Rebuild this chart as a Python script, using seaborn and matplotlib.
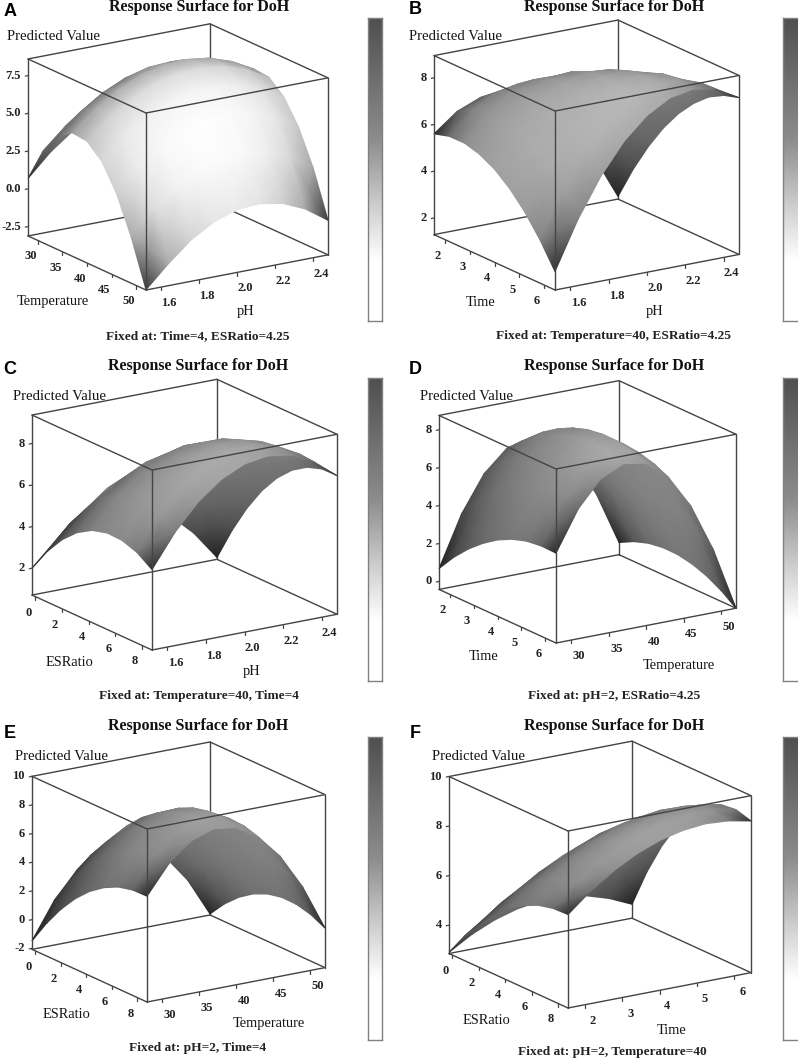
import numpy as np
import seaborn as sns
import matplotlib
matplotlib.use("Agg")
import matplotlib.pyplot as plt
from matplotlib.collections import QuadMesh
from matplotlib.colors import Normalize
from mpl_toolkits.mplot3d import proj3d

sns.set_theme(style="white")
plt.rcParams['font.family'] = ['Liberation Serif', 'DejaVu Serif']

# sampled axis positions
ph_grid = [1.52, 1.64, 1.76, 1.88, 2.0, 2.12, 2.24, 2.36, 2.48]
temp_grid = [28, 31, 34, 37, 40, 43, 46, 49, 52]
time_grid = [1.55, 2.16, 2.78, 3.39, 4.0, 4.61, 5.22, 5.84, 6.45]
esr_grid = [-0.25, 0.88, 2.0, 3.12, 4.25, 5.38, 6.5, 7.62, 8.75]

# tick labels
ph_ticks = [1.6, 1.8, 2.0, 2.2, 2.4]
temp_ticks = [30, 35, 40, 45, 50]
time_ticks = [2, 3, 4, 5, 6]
esr_ticks = [0, 2, 4, 6, 8]

# predicted values, one row per x position
z_a = [[0.69, 2.16, 3.29, 4.09, 4.54, 4.64, 4.40, 3.82, 2.89],
       [2.92, 4.30, 5.35, 6.08, 6.50, 6.59, 6.37, 5.83, 4.97],
       [4.37, 5.68, 6.68, 7.37, 7.77, 7.86, 7.65, 7.14, 6.32],
       [5.05, 6.32, 7.29, 7.98, 8.37, 8.45, 8.25, 7.74, 6.94],
       [4.94, 6.22, 7.19, 7.88, 8.27, 8.35, 8.15, 7.64, 6.84],
       [4.05, 5.37, 6.38, 7.08, 7.49, 7.57, 7.36, 6.84, 6.01],
       [2.37, 3.77, 4.84, 5.59, 6.02, 6.11, 5.89, 5.34, 4.46],
       [-0.08, 1.44, 2.60, 3.41, 3.87, 3.97, 3.73, 3.13, 2.18],
       [-3.10, -1.65, -0.37, 0.52, 1.03, 1.14, 0.87, 0.21, -0.83]]
z_b = [[5.60, 6.37, 6.77, 6.80, 6.46, 5.75, 4.67, 3.22, 1.40],
       [5.79, 6.72, 7.28, 7.46, 7.28, 6.73, 5.81, 4.51, 2.85],
       [5.80, 6.88, 7.60, 7.94, 7.92, 7.53, 6.76, 5.63, 4.13],
       [5.62, 6.87, 7.74, 8.25, 8.38, 8.15, 7.54, 6.57, 5.22],
       [5.27, 6.67, 7.71, 8.37, 8.66, 8.58, 8.14, 7.32, 6.13],
       [4.74, 6.30, 7.49, 8.31, 8.76, 8.84, 8.55, 7.90, 6.86],
       [4.04, 5.76, 7.10, 8.09, 8.69, 8.93, 8.80, 8.30, 7.43],
       [3.14, 5.02, 6.53, 7.67, 8.43, 8.83, 8.86, 8.52, 7.80],
       [2.08, 4.12, 5.78, 7.08, 8.00, 8.56, 8.74, 8.56, 8.00]]
z_c = [[2.00, 3.08, 3.82, 4.19, 4.22, 3.89, 3.22, 2.18, 0.80],
       [3.13, 4.27, 5.07, 5.51, 5.60, 5.33, 4.72, 3.75, 2.43],
       [4.03, 5.24, 6.10, 6.60, 6.75, 6.55, 6.00, 5.09, 3.83],
       [4.70, 5.97, 6.89, 7.45, 7.67, 7.53, 7.04, 6.19, 5.00],
       [5.14, 6.47, 7.46, 8.08, 8.36, 8.28, 7.86, 7.07, 5.94],
       [5.35, 6.74, 7.79, 8.48, 8.82, 8.80, 8.44, 7.72, 6.65],
       [5.32, 6.78, 7.89, 8.64, 9.04, 9.09, 8.79, 8.13, 7.12],
       [5.07, 6.59, 7.76, 8.57, 9.04, 9.15, 8.91, 8.31, 7.37],
       [4.58, 6.16, 7.40, 8.27, 8.80, 8.97, 8.80, 8.26, 7.38]]
z_d = [[0.68, 3.33, 5.22, 6.32, 6.65, 6.20, 4.99, 2.99, 0.22],
       [1.62, 4.20, 6.02, 7.05, 7.32, 6.81, 5.52, 3.46, 0.62],
       [2.42, 4.93, 6.68, 7.65, 7.85, 7.27, 5.92, 3.79, 0.89],
       [3.07, 5.52, 7.21, 8.11, 8.24, 7.59, 6.18, 3.98, 1.01],
       [3.60, 5.99, 7.60, 8.44, 8.50, 7.79, 6.30, 4.04, 1.00],
       [3.99, 6.31, 7.86, 8.62, 8.62, 7.84, 6.29, 3.95, 0.85],
       [4.24, 6.49, 7.97, 8.67, 8.60, 7.75, 6.13, 3.74, 0.57],
       [4.34, 6.53, 7.94, 8.58, 8.44, 7.53, 5.84, 3.37, 0.14],
       [4.32, 6.44, 7.79, 8.35, 8.15, 7.17, 5.42, 2.88, -0.42]]
z_e = [[-1.48, 1.04, 2.82, 3.86, 4.16, 3.73, 2.56, 0.65, -2.00],
       [0.19, 2.64, 4.36, 5.34, 5.58, 5.08, 3.84, 1.87, -0.84],
       [1.63, 4.02, 5.67, 6.58, 6.76, 6.20, 4.89, 2.86, 0.08],
       [2.83, 5.15, 6.74, 7.59, 7.70, 7.07, 5.71, 3.61, 0.77],
       [3.80, 6.05, 7.58, 8.36, 8.41, 7.72, 6.30, 4.13, 1.23],
       [4.53, 6.73, 8.18, 8.90, 8.89, 8.13, 6.64, 4.41, 1.45],
       [5.03, 7.16, 8.55, 9.21, 9.13, 8.31, 6.75, 4.46, 1.43],
       [5.28, 7.35, 8.69, 9.27, 9.13, 8.25, 6.63, 4.27, 1.18],
       [5.31, 7.31, 8.58, 9.11, 8.90, 7.95, 6.27, 3.85, 0.69]]
z_f = [[2.91, 3.45, 3.86, 4.13, 4.26, 4.25, 4.12, 3.83, 3.42],
       [3.82, 4.44, 4.93, 5.28, 5.50, 5.58, 5.52, 5.32, 5.00],
       [4.59, 5.28, 5.84, 6.26, 6.55, 6.69, 6.70, 6.57, 6.31],
       [5.24, 5.99, 6.60, 7.07, 7.41, 7.61, 7.67, 7.59, 7.38],
       [5.77, 6.55, 7.20, 7.71, 8.08, 8.31, 8.41, 8.37, 8.20],
       [6.17, 6.98, 7.65, 8.18, 8.57, 8.82, 8.94, 8.92, 8.77],
       [6.45, 7.26, 7.93, 8.47, 8.87, 9.13, 9.25, 9.24, 9.09],
       [6.60, 7.40, 8.07, 8.59, 8.98, 9.23, 9.35, 9.32, 9.16],
       [6.63, 7.40, 8.04, 8.54, 8.90, 9.12, 9.22, 9.16, 8.98]]

z_ticks_a = [-2.5, 0.0, 2.5, 5.0, 7.5]
z_ticks_b = [2, 4, 6, 8]
z_ticks_d = [0, 2, 4, 6, 8]
z_ticks_e = [-2, 0, 2, 4, 6, 8, 10]
z_ticks_f = [4, 6, 8, 10]

ELEV, AZIM = 17.3, -33.0
GRAY_MAP = sns.blend_palette(['#1a1a1a', '#828282', '#c0c0c0', '#ffffff'], as_cmap=True)
BAR_MAP = sns.blend_palette(['#ffffff', '#ffffff', '#c8c8c8', '#8c8c8c', '#6e6e6e', '#505050'], as_cmap=True)
LINE = '#444444'
W, H = 798, 1060

panels = [
    dict(letter='A', letter_xy=(10, 11), title_xy=(199, 7), caption='Fixed at: Time=4, ESRatio=4.25', caption_xy=(198, 336),
         x=temp_grid, y=ph_grid, z=z_a, xticks=temp_ticks, yticks=ph_ticks, zticks=z_ticks_a, zfmt='{:.1f}',
         zlim=(-3.12, 8.6), front=(146, 290), left=28, right=328, height=177, gain=1.0,
         pred_xy=(7, 37), xname='Temperature', xname_xy=(53, 302), yname='pH', yname_xy=(246, 312),
         bar=(368, 18, 382, 321)),
    dict(letter='B', letter_xy=(415, 10), title_xy=(614, 7), caption='Fixed at: Temperature=40, ESRatio=4.25', caption_xy=(614, 336),
         x=time_grid, y=ph_grid, z=z_b, xticks=time_ticks, yticks=ph_ticks, zticks=z_ticks_b, zfmt='{:d}',
         zlim=(1.29, 8.95), front=(555, 290), left=434, right=739, height=179, gain=0.78,
         pred_xy=(409, 37), xname='Time', xname_xy=(481, 302), yname='pH', yname_xy=(655, 312),
         bar=(783, 18, 802, 321)),
    dict(letter='C', letter_xy=(10, 369), title_xy=(198, 366), caption='Fixed at: Temperature=40, Time=4', caption_xy=(199, 696),
         x=esr_grid, y=ph_grid, z=z_c, xticks=esr_ticks, yticks=ph_ticks, zticks=z_ticks_b, zfmt='{:d}',
         zlim=(0.71, 9.37), front=(152, 650), left=32, right=337, height=180, gain=0.76,
         pred_xy=(13, 397), xname='ESRatio', xname_xy=(69, 662), yname='pH', yname_xy=(252, 672),
         bar=(368, 378, 382, 681)),
    dict(letter='D', letter_xy=(415, 369), title_xy=(614, 366), caption='Fixed at: pH=2, ESRatio=4.25', caption_xy=(614, 696),
         x=time_grid, y=temp_grid, z=z_d, xticks=time_ticks, yticks=temp_ticks, zticks=z_ticks_d, zfmt='{:d}',
         zlim=(-0.42, 8.76), front=(556, 643), left=439, right=736, height=174, gain=0.76,
         pred_xy=(420, 397), xname='Time', xname_xy=(484, 656), yname='Temperature', yname_xy=(679, 665),
         bar=(783, 378, 802, 681)),
    dict(letter='E', letter_xy=(10, 734), title_xy=(198, 726), caption='Fixed at: pH=2, Time=4', caption_xy=(198, 1048),
         x=esr_grid, y=temp_grid, z=z_e, xticks=esr_ticks, yticks=temp_ticks, zticks=z_ticks_e, zfmt='{:d}',
         zlim=(-2.07, 10.0), front=(147, 1002), left=32, right=325, height=173, gain=0.74,
         pred_xy=(15, 756), xname='ESRatio', xname_xy=(66, 1015), yname='Temperature', yname_xy=(269, 1024),
         bar=(368, 737, 382, 1040)),
    dict(letter='F', letter_xy=(415, 734), title_xy=(614, 726), caption='Fixed at: pH=2, Temperature=40', caption_xy=(612, 1052),
         x=esr_grid, y=time_grid, z=z_f, xticks=esr_ticks, yticks=time_ticks, zticks=z_ticks_f, zfmt='{:d}',
         zlim=(2.86, 10.0), front=(568, 1008), left=449, right=751, height=177, gain=0.76,
         pred_xy=(432, 756), xname='ESRatio', xname_xy=(486, 1020), yname='Time', yname_xy=(672, 1030),
         bar=(783, 737, 802, 1040)),
]

fig = plt.figure(figsize=(W / 100, H / 100), dpi=100, facecolor='white')


def px_text(xy, text, **kw):
    kw.setdefault('color', '#151515')
    kw.setdefault('ha', 'center')
    kw.setdefault('va', 'center')
    fig.text(xy[0] / W, 1 - xy[1] / H, text, **kw)


def to_px(ax, x, y, z):
    px, py, _ = proj3d.proj_transform(x, y, z, ax.get_proj())
    return ax.transData.transform((px, py))


def fit_axes(ax, p):
    xa, xb = p['x'][0], p['x'][-1]
    ya, yb = p['y'][0], p['y'][-1]
    za = p['zlim'][0]
    for _ in range(3):
        ax.apply_aspect()
        left_px = to_px(ax, xa, ya, za)
        right_px = to_px(ax, xb, yb, za)
        scale = (p['right'] - p['left']) / (right_px[0] - left_px[0])
        pos = ax.get_position()
        side = pos.width * W * scale
        cx = (pos.x0 + pos.width / 2) * W
        cy = (pos.y0 + pos.height / 2) * H
        ax.set_position([(cx - side / 2) / W, (cy - side / 2) / H, side / W, side / H])
        ax.apply_aspect()
        front_px = to_px(ax, xb, ya, za)
        pos = ax.get_position()
        ax.set_position([pos.x0 + (p['front'][0] - front_px[0]) / W,
                         pos.y0 + (H - p['front'][1] - front_px[1]) / H,
                         pos.width, pos.height])


def vertex_levels(p, lengths):
    x = np.array(p['x'], dtype=float)
    y = np.array(p['y'], dtype=float)
    z = np.array(p['z'], dtype=float)
    xx, yy = np.meshgrid((x - x[0]) / (x[-1] - x[0]), (y - y[0]) / (y[-1] - y[0]), indexing='ij')
    zz = (z - p['zlim'][0]) / (p['zlim'][1] - p['zlim'][0])
    pts = np.dstack([xx * lengths[0], yy * lengths[1], zz * lengths[2]])
    normal = np.cross(np.gradient(pts, axis=0), np.gradient(pts, axis=1))
    normal = normal / np.linalg.norm(normal, axis=2, keepdims=True)

    light = np.array([0.8, -0.15, 0.58])
    light = light / np.linalg.norm(light)
    el, az = np.radians(ELEV), np.radians(AZIM)
    view = np.array([np.cos(el) * np.cos(az), np.cos(el) * np.sin(az), np.sin(el)])
    lit = 0.2 + 0.8 * np.clip(normal @ light, 0, 1)
    under = normal @ view < 0
    lit = np.where(under, 0.42 + 0.2 * (normal @ light), lit)

    edge = ((2 * xx - 1) ** 2 + (2 * yy - 1) ** 2) / 2
    return np.clip(lit * p['gain'] * (1 - 0.9 * edge ** 3), 0, 1)


for p in panels:
    ang_s, ang_c = -np.sin(np.radians(AZIM)), np.cos(np.radians(AZIM))
    dx1 = p['front'][0] - p['left']
    dx2 = p['right'] - p['front'][0]
    lengths = (dx1 / ang_s, dx2 / ang_c, p['height'] / np.cos(np.radians(ELEV)))

    ax = fig.add_axes([0.1, 0.1, 300 / W, 300 / H], projection='3d', proj_type='ortho')
    ax.computed_zorder = False
    ax.view_init(elev=ELEV, azim=AZIM)
    ax.set_box_aspect(lengths)
    ax.set_axis_off()

    xa, xb = p['x'][0], p['x'][-1]
    ya, yb = p['y'][0], p['y'][-1]
    za, zb = p['zlim']

    ax.set_xlim(xa, xb, view_margin=0)
    ax.set_ylim(ya, yb, view_margin=0)
    ax.set_zlim(za, zb, view_margin=0)
    fit_axes(ax, p)
    M = ax.get_proj()

    # surface through the axes projection, far corner first, gouraud shaded
    X, Y = np.meshgrid(p['x'], p['y'], indexing='ij')
    sx, sy, _ = proj3d.proj_transform(X.ravel(), Y.ravel(), np.array(p['z'], dtype=float).ravel(), M)
    coords = np.dstack([np.reshape(sx, X.shape), np.reshape(sy, X.shape)])[:, ::-1]
    mesh = QuadMesh(coords, shading='gouraud', antialiased=False, cmap=GRAY_MAP, norm=Normalize(0, 1),
                    array=vertex_levels(p, lengths)[:, ::-1], transform=ax.transData, zorder=2)
    mesh.do_3d_projection = lambda: 0
    ax.add_collection(mesh, autolim=False)

    # box edges behind and in front of the surface
    back = [((xa, xa), (yb, yb), (za, zb)), ((xa, xa), (ya, yb), (za, za)), ((xa, xb), (yb, yb), (za, za)),
            ((xa, xa), (ya, yb), (zb, zb)), ((xa, xb), (yb, yb), (zb, zb))]
    front = [((xa, xb), (ya, ya), (zb, zb)), ((xb, xb), (ya, yb), (zb, zb)), ((xb, xb), (ya, ya), (za, zb)),
             ((xa, xa), (ya, ya), (za, zb)), ((xb, xb), (yb, yb), (za, zb)),
             ((xa, xb), (ya, ya), (za, za)), ((xb, xb), (ya, yb), (za, za))]
    for seg in back:
        ax.plot(*seg, color=LINE, lw=1.0, zorder=1)
    for seg in front:
        ax.plot(*seg, color=LINE, lw=1.0, zorder=3)

    tick_len = 0.018 * (zb - za)
    for v in p['xticks']:
        ax.plot((v, v), (ya, ya), (za, za - tick_len), color=LINE, lw=0.9, zorder=3)
    for v in p['yticks']:
        ax.plot((xb, xb), (v, v), (za, za - tick_len), color=LINE, lw=0.9, zorder=3)
    for v in p['zticks']:
        ax.plot((xa, xa), (ya, ya - 0.015 * (yb - ya)), (v, v), color=LINE, lw=0.9, zorder=3)

    ax.set_xlim(xa, xb, view_margin=0)
    ax.set_ylim(ya, yb, view_margin=0)
    ax.set_zlim(za, zb, view_margin=0)

    for v in p['xticks']:
        px, py, _ = proj3d.proj_transform(v, ya, za, M)
        ax.annotate(str(v), (px, py), xytext=(-7, -16), textcoords='offset pixels', ha='center', va='center',
                    fontsize=9, fontweight='bold', color='#222222', annotation_clip=False)
    for v in p['yticks']:
        px, py, _ = proj3d.proj_transform(xb, v, za, M)
        ax.annotate('{:.1f}'.format(v) if p['y'] is ph_grid else str(v), (px, py), xytext=(8, -16),
                    textcoords='offset pixels', ha='center', va='center',
                    fontsize=9, fontweight='bold', color='#222222', annotation_clip=False)
    for v in p['zticks']:
        px, py, _ = proj3d.proj_transform(xa, ya, v, M)
        ax.annotate(p['zfmt'].format(v), (px, py), xytext=(-7, 0), textcoords='offset pixels', ha='right', va='center',
                    fontsize=9, fontweight='bold', color='#222222', annotation_clip=False)

    px_text(p['title_xy'], 'Response Surface for DoH', fontsize=11.5, fontweight='bold', color='#111111')
    px_text(p['caption_xy'], p['caption'], fontsize=9.6, fontweight='bold', color='#222222')
    px_text(p['pred_xy'], 'Predicted Value', fontsize=10.6, ha='left')
    px_text(p['xname_xy'], p['xname'], fontsize=10.4)
    px_text(p['yname_xy'], p['yname'], fontsize=10.4)
    px_text(p['letter_xy'], p['letter'], fontsize=13, fontweight='bold', family=['Liberation Sans'], color='black')

    # shade bar beside each surface
    x0, y0, x1, y1 = p['bar']
    cax = fig.add_axes([x0 / W, 1 - y1 / H, (x1 - x0) / W, (y1 - y0) / H])
    cax.imshow(np.linspace(1, 0, 256)[:, None], aspect='auto', cmap=BAR_MAP, vmin=0, vmax=1)
    cax.set_xticks([])
    cax.set_yticks([])
    for spine in cax.spines.values():
        spine.set_color('#808080')
        spine.set_linewidth(1.0)

fig.savefig('out.png', dpi=100)
